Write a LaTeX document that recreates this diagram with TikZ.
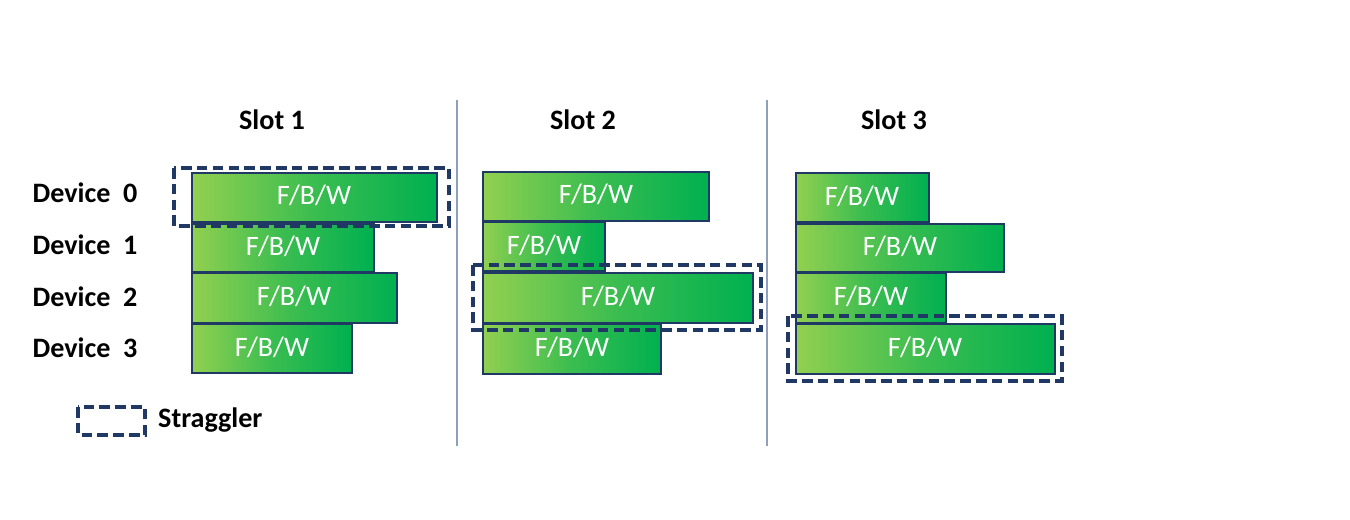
\documentclass[tikz,border=0pt]{standalone}
\usepackage{fontspec}
\setmainfont{Carlito}
\begin{document}
\begin{tikzpicture}[x=0.02cm,y=-0.02cm]
\definecolor{lg}{RGB}{146,208,80}
\definecolor{dg}{RGB}{0,176,80}
\definecolor{nv}{RGB}{31,56,100}
\definecolor{sep}{RGB}{143,160,190}
\tikzset{
 blk/.style={draw=nv,line width=0.8pt,left color=lg,right color=dg,middle color=dg!60!lg},
 blt/.style={text=white,font=\fontsize{16}{18}\selectfont},
 strag/.style={draw=nv,dashed,line width=1.8pt,dash pattern=on 6pt off 3pt},
 lbl/.style={font=\bfseries\fontsize{16}{18}\selectfont}
}
\useasboundingbox (0,0) rectangle (1350,520);
\draw[sep,line width=0.8pt] (457,100) coordinate (s1a) -- (457,446) coordinate (s1b);
\draw[sep,line width=0.8pt] (767,100) coordinate (s2a) -- (767,446) coordinate (s2b);
\node[lbl] (t1) at (272,120) {Slot 1};
\node[lbl] (t2) at (583,120) {Slot 2};
\node[lbl] (t3) at (894,120) {Slot 3};
\node[lbl] (d0) at (85,193) {Device\ \ 0};
\node[lbl] (d1) at (85,245) {Device\ \ 1};
\node[lbl] (d2) at (85,297) {Device\ \ 2};
\node[lbl] (d3) at (85,348) {Device\ \ 3};
% slot 1
\draw[blk] (192,173) rectangle (437,222); \node[blt] (a0) at (314,195) {F/B/W};
\draw[blk] (192,224) rectangle (374,272); \node[blt] (a1) at (283,246) {F/B/W};
\draw[blk] (192,273) rectangle (397,323); \node[blt] (a2) at (294,296) {F/B/W};
\draw[blk] (192,324) rectangle (352,373); \node[blt] (a3) at (272,347) {F/B/W};
% slot 2
\draw[blk] (483,172) rectangle (709,221); \node[blt] (b0) at (596,194) {F/B/W};
\draw[blk] (483,222) rectangle (605,271); \node[blt] (b1) at (544,245) {F/B/W};
\draw[blk] (483,273) rectangle (753,323); \node[blt] (b2) at (618,296) {F/B/W};
\draw[blk] (483,324) rectangle (661,374); \node[blt] (b3) at (572,347) {F/B/W};
% slot 3
\draw[blk] (796,173) rectangle (929,222); \node[blt] (c0) at (862,196) {F/B/W};
\draw[blk] (796,224) rectangle (1004,272); \node[blt] (c1) at (900,246) {F/B/W};
\draw[blk] (796,273) rectangle (946,323); \node[blt] (c2) at (871,296) {F/B/W};
\draw[blk] (796,324) rectangle (1055,374); \node[blt] (c3) at (925,347) {F/B/W};
% stragglers
\draw[strag] (174,168) rectangle (449,226);
\draw[strag] (473,265) rectangle (761,330);
\draw[strag] (788,316) rectangle (1062,381);
% legend
\draw[strag] (78,407) rectangle (145,435);
\node[lbl,anchor=west] (lg) at (152,420) {Straggler};
\end{tikzpicture}
\end{document}
